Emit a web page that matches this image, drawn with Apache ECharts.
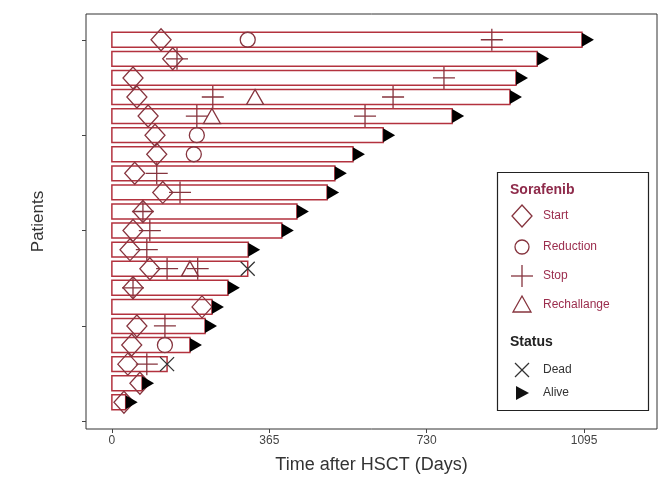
<!DOCTYPE html>
<html>
<head>
<meta charset="utf-8">
<script src="https://cdn.jsdelivr.net/npm/echarts@6/dist/echarts.min.js"></script>
<style>html,body{margin:0;padding:0;background:#fff}#c{width:664px;height:479px}</style>
</head>
<body>
<div id="c"></div>
<script>
// Patients 1 (bottom) .. 20 (top)
const patients = [1,2,3,4,5,6,7,8,9,10,11,12,13,14,15,16,17,18,19,20];
const followUp = [32,70,128,181,216,232,269,315,316,394,429,499,517,559,629,789,923,937,986,1090];
const statusDead = [3,8];
// Sorafenib events: [day, patient]
const startEv = [[28,1],[65,2],[37,3],[46,4],[58,5],[209,6],[49,7],[88,8],[42,9],[49,10],[72,11],[118,12],[53,13],[104,14],[100,15],[84,16],[58,17],[49,18],[141,19],[114,20]];
const reductionEv = [[123,4],[190,14],[197,15],[315,20]];
const stopEv = [[81,3],[123,5],[49,7],[128,8],[199,8],[81,9],[88,10],[72,11],[158,12],[104,13],[197,16],[587,16],[234,17],[652,17],[770,18],[151,19],[881,20]];
const rechallengeEv = [[181,8],[232,16],[332,17]];
const xTicks = [0,365,730,1095];
const yTicks = [0,5,10,15,20];

const barColor = '#b3323e';
const mk = '#86343e';
const crossPath = 'path://M0,5 L10,5 M5,0 L5,10';
const xPath = 'path://M0,0 L10,10 M10,0 L0,10';
const arrowPath = 'path://M0,0 L10,5 L0,10 Z';

const barData = patients.map((p,i)=>[followUp[i], p]);
const deadData = barData.filter(d=>statusDead.includes(d[1]));
const aliveData = barData.filter(d=>!statusDead.includes(d[1]));

const chart = echarts.init(document.getElementById('c'), null, {renderer:'canvas'});
const FONT = 'Liberation Sans, Arial, sans-serif';

const legendX = 522, textX = 543;
const graphics = [
  {type:'rect', shape:{x:497.5, y:172.5, width:151, height:238}, style:{fill:'#fff', stroke:'#222', lineWidth:1.2}, z:10},
  {type:'text', style:{x:510, y:190, text:'Sorafenib', fill:'#8e2a4a', font:'bold 14px ' + FONT, verticalAlign:'middle'}, z:11},
  {type:'polygon', shape:{points:[[legendX,205],[legendX+10,216],[legendX,227],[legendX-10,216]]}, style:{fill:'none', stroke:mk, lineWidth:1.3}, z:11},
  {type:'text', style:{x:textX, y:216, text:'Start', fill:'#9b2d4d', font:'12px ' + FONT, verticalAlign:'middle'}, z:11},
  {type:'circle', shape:{cx:legendX, cy:247, r:7}, style:{fill:'none', stroke:mk, lineWidth:1.3}, z:11},
  {type:'text', style:{x:textX, y:247, text:'Reduction', fill:'#9b2d4d', font:'12px ' + FONT, verticalAlign:'middle'}, z:11},
  {type:'line', shape:{x1:legendX-11, y1:276, x2:legendX+11, y2:276}, style:{stroke:mk, lineWidth:1.3}, z:11},
  {type:'line', shape:{x1:legendX, y1:265, x2:legendX, y2:287}, style:{stroke:mk, lineWidth:1.3}, z:11},
  {type:'text', style:{x:textX, y:276, text:'Stop', fill:'#9b2d4d', font:'12px ' + FONT, verticalAlign:'middle'}, z:11},
  {type:'polygon', shape:{points:[[legendX,296],[legendX+9,312],[legendX-9,312]]}, style:{fill:'none', stroke:mk, lineWidth:1.3}, z:11},
  {type:'text', style:{x:textX, y:305, text:'Rechallange', fill:'#9b2d4d', font:'12px ' + FONT, verticalAlign:'middle'}, z:11},
  {type:'text', style:{x:510, y:342, text:'Status', fill:'#222', font:'bold 14px ' + FONT, verticalAlign:'middle'}, z:11},
  {type:'line', shape:{x1:legendX-7, y1:363, x2:legendX+7, y2:377}, style:{stroke:'#333', lineWidth:1.3}, z:11},
  {type:'line', shape:{x1:legendX+7, y1:363, x2:legendX-7, y2:377}, style:{stroke:'#333', lineWidth:1.3}, z:11},
  {type:'text', style:{x:textX, y:370, text:'Dead', fill:'#333', font:'12px ' + FONT, verticalAlign:'middle'}, z:11},
  {type:'polygon', shape:{points:[[legendX-6,386],[legendX+7,393],[legendX-6,400]]}, style:{fill:'#111'}, z:11},
  {type:'text', style:{x:textX, y:393, text:'Alive', fill:'#333', font:'12px ' + FONT, verticalAlign:'middle'}, z:11}
];

function scatter(data, symbol, size, color, fill, extra){
  return Object.assign({
    type:'scatter', data: data, symbol: symbol, symbolSize: size, z: 5,
    itemStyle:{color: fill, borderColor: color, borderWidth: 1.3, opacity:1},
    emphasis:{disabled:true}, animation:false, silent:true
  }, extra||{});
}

chart.setOption({
  animation:false,
  textStyle:{fontFamily: FONT},
  grid:{left:86, top:14, right:7, bottom:50, show:true, borderColor:'#333', borderWidth:1, backgroundColor:'#fff'},
  xAxis:{
    type:'value', min:-60, max:1264,
    name:'Time after HSCT (Days)', nameLocation:'middle', nameGap:27,
    nameTextStyle:{fontSize:18, color:'#333', fontFamily: FONT},
    axisLine:{show:false, onZero:false},
    splitLine:{show:false},
    axisTick:{show:true, length:4, lineStyle:{color:'#444'}, customValues: xTicks},
    axisLabel:{show:true, fontSize:12, color:'#444', margin:6, customValues: xTicks, formatter: v => String(v)}
  },
  yAxis:{
    type:'value', min:-0.4, max:21.35,
    name:'Patients', nameLocation:'middle', nameGap:39, nameRotate:90,
    nameTextStyle:{fontSize:17, color:'#333', fontFamily: FONT},
    axisLine:{show:false, onZero:false},
    splitLine:{show:false},
    axisTick:{show:true, length:4, lineStyle:{color:'#444'}, customValues: yTicks},
    axisLabel:{show:false, customValues: yTicks}
  },
  graphic: graphics,
  series:[
    {
      type:'custom', data: barData, z:2, animation:false, silent:true,
      renderItem: function(params, api){
        const s = api.coord([0, api.value(1)]);
        const e = api.coord([api.value(0), api.value(1)]);
        const h = api.size([0, 0.78])[1];
        return {type:'rect', shape:{x:s[0], y:s[1]-h/2, width:e[0]-s[0], height:h},
          style:{fill:'#fff', stroke:barColor, lineWidth:1.5}};
      }
    },
    scatter(startEv, 'diamond', [20,22], mk, 'rgba(0,0,0,0)'),
    scatter(reductionEv, 'circle', 15, mk, 'rgba(0,0,0,0)'),
    scatter(stopEv, crossPath, 22, mk, 'rgba(0,0,0,0)'),
    scatter(rechallengeEv, 'triangle', [17,15], mk, 'rgba(0,0,0,0)'),
    scatter(deadData, xPath, 14, '#333', 'rgba(0,0,0,0)'),
    scatter(aliveData, arrowPath, [12,14], '#111', '#111', {symbolOffset:[6,0], itemStyle:{color:'#000', borderWidth:0, opacity:1}})
  ]
});
</script>
</body>
</html>
